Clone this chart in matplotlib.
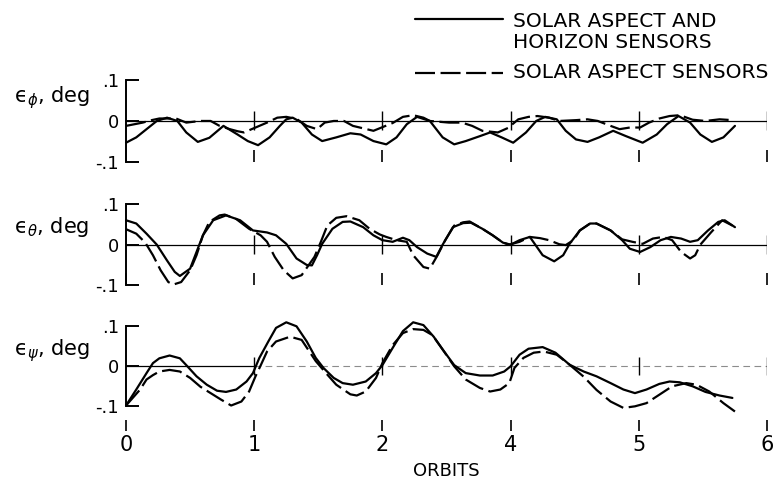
import matplotlib
matplotlib.use("Agg")
import matplotlib.pyplot as plt
from matplotlib.lines import Line2D

plt.rcParams["font.family"] = "DejaVu Sans"

# orbit axis: evenly spaced ticks, labels as printed on the original
orbit_ticks = [0, 1, 2, 3, 4, 5]
orbit_labels = ["0", "1", "2", "4", "5", "6"]

y_ticks = [-0.1, 0.0, 0.1]
y_labels = ["-.1", "0", ".1"]

legend_labels = ["SOLAR ASPECT AND\nHORIZON SENSORS", "SOLAR ASPECT SENSORS"]
panel_labels = ["ϵ$_{ϕ}$, deg", "ϵ$_{θ}$, deg", "ϵ$_{ψ}$, deg"]

# roll error (phi)
phi_hs_x = [0.00, 0.08, 0.16, 0.24, 0.32, 0.40, 0.47, 0.56, 0.65, 0.76,
            0.87, 0.95, 1.03, 1.12, 1.20, 1.25, 1.30, 1.37, 1.45, 1.53,
            1.64, 1.75, 1.83, 1.93, 2.03, 2.11, 2.19, 2.27, 2.37, 2.47,
            2.56, 2.65, 2.76, 2.84, 2.93, 3.02, 3.12, 3.20, 3.27, 3.36,
            3.43, 3.51, 3.60, 3.69, 3.80, 3.90, 4.03, 4.14, 4.22, 4.31,
            4.40, 4.48, 4.57, 4.66, 4.75]
phi_hs_y = [-0.053, -0.040, -0.020, 0.000, 0.008, 0.000, -0.028, -0.051, -0.041, -0.012,
            -0.033, -0.049, -0.059, -0.040, -0.012, 0.004, 0.008, -0.004, -0.033, -0.049,
            -0.040, -0.030, -0.033, -0.049, -0.057, -0.040, -0.008, 0.010, 0.000, -0.040,
            -0.057, -0.049, -0.037, -0.028, -0.040, -0.053, -0.028, 0.000, 0.010, 0.004,
            -0.024, -0.045, -0.051, -0.040, -0.024, -0.037, -0.053, -0.033, -0.008, 0.012,
            -0.004, -0.033, -0.051, -0.040, -0.012]
phi_sa_x = [0.00, 0.13, 0.20, 0.26, 0.39, 0.47, 0.58, 0.66, 0.73, 0.81,
            0.87, 0.92, 1.04, 1.10, 1.18, 1.25, 1.33, 1.41, 1.49, 1.55,
            1.62, 1.70, 1.77, 1.93, 2.08, 2.16, 2.24, 2.32, 2.37, 2.52,
            2.62, 2.70, 2.78, 2.90, 2.98, 3.06, 3.14, 3.21, 3.30, 3.38,
            3.51, 3.60, 3.68, 3.78, 3.85, 3.93, 4.01, 4.08, 4.16, 4.24,
            4.32, 4.42, 4.52, 4.63, 4.73]
phi_sa_y = [-0.012, -0.004, 0.002, 0.006, 0.006, -0.004, 0.000, 0.000, -0.012, -0.020,
            -0.025, -0.028, -0.012, -0.004, 0.008, 0.010, 0.005, -0.012, -0.020, -0.004,
            0.000, 0.000, -0.012, -0.024, -0.005, 0.010, 0.014, 0.008, 0.000, -0.004,
            -0.004, -0.012, -0.024, -0.028, -0.017, 0.004, 0.010, 0.012, 0.008, 0.000,
            0.002, 0.004, 0.000, -0.012, -0.020, -0.016, -0.016, -0.004, 0.006, 0.012,
            0.014, 0.003, 0.000, 0.004, 0.002]

# pitch error (theta)
theta_hs_x = [0.00, 0.08, 0.16, 0.24, 0.32, 0.38, 0.42, 0.50, 0.55, 0.60,
              0.68, 0.78, 0.89, 0.99, 1.10, 1.17, 1.25, 1.33, 1.41, 1.45,
              1.49, 1.53, 1.61, 1.69, 1.75, 1.85, 1.93, 2.00, 2.08, 2.16,
              2.21, 2.27, 2.35, 2.42, 2.47, 2.55, 2.63, 2.69, 2.78, 2.86,
              2.94, 3.00, 3.07, 3.15, 3.25, 3.34, 3.41, 3.46, 3.54, 3.62,
              3.67, 3.78, 3.87, 3.93, 4.01, 4.09, 4.17, 4.25, 4.33, 4.40,
              4.46, 4.54, 4.62, 4.67, 4.75]
theta_hs_y = [0.060, 0.052, 0.027, 0.000, -0.039, -0.067, -0.077, -0.059, -0.018, 0.023,
              0.060, 0.072, 0.060, 0.035, 0.030, 0.023, 0.002, -0.034, -0.050, -0.051,
              -0.026, 0.002, 0.039, 0.056, 0.057, 0.043, 0.023, 0.011, 0.007, 0.017,
              0.011, -0.006, -0.022, -0.030, 0.000, 0.043, 0.053, 0.054, 0.039, 0.023,
              0.005, 0.000, 0.011, 0.019, -0.026, -0.041, -0.026, 0.002, 0.035, 0.052,
              0.052, 0.035, 0.011, -0.010, -0.018, -0.006, 0.011, 0.019, 0.015, 0.007,
              0.011, 0.035, 0.056, 0.060, 0.043]
theta_sa_x = [0.00, 0.08, 0.15, 0.21, 0.27, 0.33, 0.37, 0.43, 0.50, 0.55,
              0.60, 0.65, 0.73, 0.77, 0.86, 0.96, 1.05, 1.10, 1.16, 1.23,
              1.30, 1.37, 1.47, 1.52, 1.57, 1.64, 1.72, 1.82, 1.90, 1.98,
              2.03, 2.11, 2.19, 2.24, 2.32, 2.37, 2.43, 2.49, 2.56, 2.63,
              2.68, 2.78, 2.86, 2.94, 2.99, 3.07, 3.15, 3.23, 3.30, 3.38,
              3.43, 3.49, 3.54, 3.62, 3.67, 3.78, 3.87, 3.95, 4.03, 4.11,
              4.19, 4.26, 4.33, 4.40, 4.44, 4.48, 4.56, 4.65, 4.73]
theta_sa_y = [0.038, 0.027, 0.005, -0.026, -0.063, -0.092, -0.098, -0.092, -0.063, -0.026,
              0.023, 0.056, 0.072, 0.074, 0.063, 0.039, 0.023, 0.007, -0.030, -0.063,
              -0.083, -0.075, -0.030, 0.007, 0.047, 0.066, 0.070, 0.060, 0.039, 0.025,
              0.019, 0.011, 0.007, -0.026, -0.055, -0.059, -0.026, 0.011, 0.047, 0.055,
              0.057, 0.039, 0.023, 0.005, 0.000, 0.007, 0.019, 0.016, 0.011, 0.001,
              -0.001, 0.011, 0.035, 0.052, 0.052, 0.035, 0.013, 0.007, 0.002, 0.015,
              0.019, 0.011, -0.018, -0.034, -0.026, 0.000, 0.029, 0.060, 0.047]

# yaw error (psi)
psi_hs_x = [0.00, 0.08, 0.16, 0.21, 0.26, 0.34, 0.42, 0.47, 0.55, 0.63,
            0.71, 0.78, 0.86, 0.94, 0.99, 1.04, 1.11, 1.17, 1.25, 1.33,
            1.41, 1.48, 1.54, 1.62, 1.69, 1.77, 1.87, 1.95, 2.00, 2.08,
            2.16, 2.24, 2.32, 2.40, 2.47, 2.56, 2.65, 2.76, 2.86, 2.95,
            3.00, 3.07, 3.14, 3.25, 3.35, 3.46, 3.57, 3.67, 3.78, 3.88,
            3.97, 4.06, 4.16, 4.24, 4.32, 4.42, 4.52, 4.63, 4.73]
psi_hs_y = [-0.098, -0.058, -0.017, 0.008, 0.020, 0.027, 0.020, 0.003, -0.025, -0.046,
            -0.061, -0.064, -0.058, -0.038, -0.017, 0.021, 0.062, 0.096, 0.110, 0.100,
            0.062, 0.021, -0.004, -0.029, -0.042, -0.046, -0.038, -0.017, 0.003, 0.046,
            0.088, 0.110, 0.103, 0.074, 0.042, 0.003, -0.017, -0.023, -0.023, -0.013,
            0.000, 0.029, 0.044, 0.048, 0.034, 0.004, -0.013, -0.025, -0.042, -0.058,
            -0.067, -0.058, -0.044, -0.038, -0.040, -0.050, -0.064, -0.073, -0.079]
psi_sa_x = [0.00, 0.11, 0.16, 0.21, 0.26, 0.34, 0.42, 0.50, 0.58, 0.66,
            0.74, 0.82, 0.90, 0.96, 1.01, 1.05, 1.10, 1.17, 1.28, 1.37,
            1.48, 1.56, 1.64, 1.75, 1.80, 1.87, 1.95, 2.00, 2.08, 2.16,
            2.24, 2.32, 2.39, 2.47, 2.56, 2.65, 2.76, 2.84, 2.92, 2.99,
            3.03, 3.10, 3.18, 3.26, 3.36, 3.46, 3.57, 3.67, 3.78, 3.88,
            3.97, 4.06, 4.16, 4.26, 4.37, 4.45, 4.55, 4.66, 4.75]
psi_sa_y = [-0.098, -0.058, -0.033, -0.022, -0.013, -0.009, -0.013, -0.029, -0.051, -0.067,
            -0.083, -0.098, -0.088, -0.063, -0.025, 0.002, 0.037, 0.062, 0.074, 0.066,
            0.013, -0.017, -0.046, -0.070, -0.073, -0.063, -0.029, 0.008, 0.053, 0.083,
            0.093, 0.091, 0.078, 0.042, 0.000, -0.033, -0.054, -0.063, -0.058, -0.042,
            -0.004, 0.021, 0.034, 0.037, 0.029, 0.004, -0.026, -0.059, -0.088, -0.104,
            -0.100, -0.092, -0.071, -0.050, -0.042, -0.046, -0.063, -0.092, -0.113]

SOLID = dict(color="black", lw=1.6, solid_capstyle="round",
             solid_joinstyle="round", clip_on=False)
DASHED = dict(color="black", lw=1.6, dashes=(9, 2.5),
              dash_joinstyle="round", clip_on=False)


def style_panel(ax, label, label_y, bottom_axis):
    ax.set_xlim(0, 5)
    ax.set_ylim(-0.1, 0.1)
    for side in ["top", "right", "bottom"]:
        ax.spines[side].set_visible(False)
    ax.spines["left"].set_linewidth(1.4)
    ax.set_yticks(y_ticks)
    ax.set_yticklabels(y_labels)
    ax.tick_params(axis="y", direction="in", length=9, width=1.4,
                   labelsize=13, pad=5)
    ax.set_xticks(orbit_ticks)
    if bottom_axis:
        ax.spines["bottom"].set_position(("outward", 10))
        ax.set_xticklabels(orbit_labels)
        ax.tick_params(axis="x", direction="out", length=8, width=1.2,
                       labelsize=15, pad=3)
        ax.set_xlabel("ORBITS", fontsize=13, labelpad=5)
    else:
        ax.set_xticklabels([])
        ax.tick_params(axis="x", direction="in", length=9, width=1.2)
    ax.vlines(orbit_ticks[1:], -0.022, 0.024, color="black", lw=1.0)
    ax.text(-0.175, label_y, label, transform=ax.transAxes,
            ha="left", va="center", fontsize=15)


def main():
    fig = plt.figure(figsize=(7.76, 4.80), dpi=100)
    ax1 = fig.add_axes([0.1624, 0.6625, 0.826, 0.171])
    ax2 = fig.add_axes([0.1624, 0.4056, 0.826, 0.1694])
    ax3 = fig.add_axes([0.1624, 0.1535, 0.826, 0.1667])

    ax1.axhline(0, color="black", lw=0.9)
    ax1.plot(phi_hs_x, phi_hs_y, **SOLID)
    ax1.plot(phi_sa_x, phi_sa_y, **DASHED)
    style_panel(ax1, panel_labels[0], 0.78, False)

    ax2.axhline(0, color="black", lw=0.9)
    ax2.plot(theta_hs_x, theta_hs_y, **SOLID)
    ax2.plot(theta_sa_x, theta_sa_y, **DASHED)
    style_panel(ax2, panel_labels[1], 0.716, False)

    # zero line of the last panel is only partly inked in the original
    ax3.axhline(0, xmax=0.2, color="black", lw=0.9)
    ax3.axhline(0, xmin=0.2, color="0.55", lw=0.8, dashes=(6, 4))
    ax3.plot(psi_hs_x, psi_hs_y, **SOLID)
    ax3.plot(psi_sa_x, psi_sa_y, **DASHED)
    style_panel(ax3, panel_labels[2], 0.70, True)

    # legend, top right
    fig.add_artist(Line2D([0.535, 0.648], [0.960, 0.960],
                          transform=fig.transFigure, **SOLID))
    fig.add_artist(Line2D([0.535, 0.648], [0.848, 0.848],
                          transform=fig.transFigure, **DASHED))
    fig.text(0.661, 0.933, legend_labels[0], fontsize=14.5,
             ha="left", va="center", linespacing=1.1)
    fig.text(0.661, 0.848, legend_labels[1], fontsize=14.5,
             ha="left", va="center")

    fig.savefig("out.png", dpi=100)
    plt.close(fig)


if __name__ == "__main__":
    main()
